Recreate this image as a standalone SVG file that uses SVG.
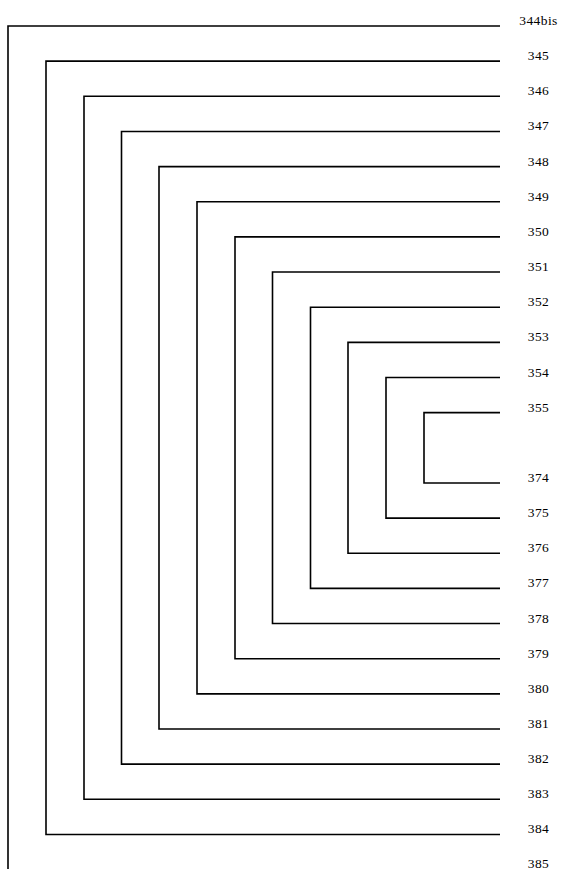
<svg xmlns="http://www.w3.org/2000/svg" width="562" height="869" viewBox="0 0 562 869">
<style>
.c{fill:none;stroke:#000;stroke-width:1.6}
.t{font-family:"Liberation Serif",serif;font-size:13.5px;letter-spacing:0.4px;text-anchor:middle;fill:#000}
</style>
<rect width="562" height="869" fill="#fff"/>
<g id="connectors">
<path class="c" d="M500 26H8V869"/>
<path class="c" d="M500 61.15H46V834.45H500"/>
<path class="c" d="M500 96.3H84V799.3H500"/>
<path class="c" d="M500 131.45H121.5V764.15H500"/>
<path class="c" d="M500 166.6H159V729H500"/>
<path class="c" d="M500 201.75H197V693.85H500"/>
<path class="c" d="M500 236.9H235V658.7H500"/>
<path class="c" d="M500 272.05H272.5V623.55H500"/>
<path class="c" d="M500 307.2H310.5V588.4H500"/>
<path class="c" d="M500 342.35H348V553.25H500"/>
<path class="c" d="M500 377.5H386V518.1H500"/>
<path class="c" d="M500 412.65H424V482.95H500"/>
</g>
<g id="n344bis"><text class="t" x="538.5" y="25">344bis</text></g>
<g id="n345"><text class="t" x="538.5" y="60.15">345</text></g>
<g id="n346"><text class="t" x="538.5" y="95.3">346</text></g>
<g id="n347"><text class="t" x="538.5" y="130.45">347</text></g>
<g id="n348"><text class="t" x="538.5" y="165.6">348</text></g>
<g id="n349"><text class="t" x="538.5" y="200.75">349</text></g>
<g id="n350"><text class="t" x="538.5" y="235.9">350</text></g>
<g id="n351"><text class="t" x="538.5" y="271.05">351</text></g>
<g id="n352"><text class="t" x="538.5" y="306.2">352</text></g>
<g id="n353"><text class="t" x="538.5" y="341.35">353</text></g>
<g id="n354"><text class="t" x="538.5" y="376.5">354</text></g>
<g id="n355"><text class="t" x="538.5" y="411.65">355</text></g>
<g id="n374"><text class="t" x="538.5" y="481.95">374</text></g>
<g id="n375"><text class="t" x="538.5" y="517.1">375</text></g>
<g id="n376"><text class="t" x="538.5" y="552.25">376</text></g>
<g id="n377"><text class="t" x="538.5" y="587.4">377</text></g>
<g id="n378"><text class="t" x="538.5" y="622.55">378</text></g>
<g id="n379"><text class="t" x="538.5" y="657.7">379</text></g>
<g id="n380"><text class="t" x="538.5" y="692.85">380</text></g>
<g id="n381"><text class="t" x="538.5" y="728">381</text></g>
<g id="n382"><text class="t" x="538.5" y="763.15">382</text></g>
<g id="n383"><text class="t" x="538.5" y="798.3">383</text></g>
<g id="n384"><text class="t" x="538.5" y="833.45">384</text></g>
<g id="n385"><text class="t" x="538.5" y="867.5">385</text></g>
</svg>
